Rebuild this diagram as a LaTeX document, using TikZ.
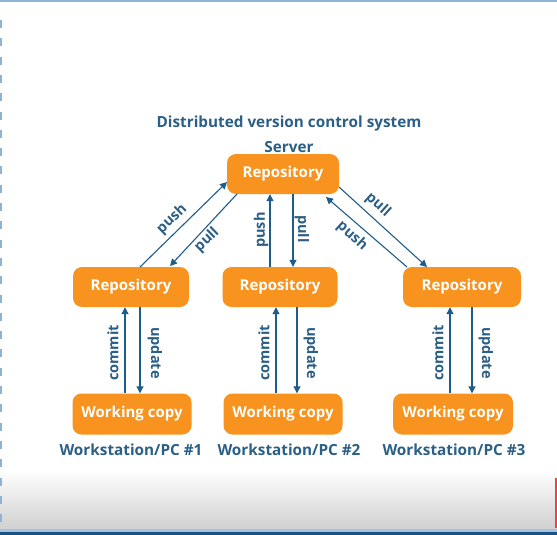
\documentclass[tikz,border=0pt]{standalone}
\usepackage{fontspec}
\setmainfont{Open Sans}
\usetikzlibrary{arrows.meta}
\definecolor{boxorange}{HTML}{F7931E}
\definecolor{arrblue}{HTML}{1E5C8A}
\definecolor{txtblue}{HTML}{2B5F86}
\definecolor{framelight}{HTML}{8FB2D9}
\definecolor{framedark}{HTML}{1B5282}
\definecolor{redbar}{HTML}{F2403C}
\tikzset{
  repo/.style={fill=boxorange, rounded corners=9pt, minimum height=40pt, text=white, font=\bfseries\fontsize{15}{17}\selectfont, inner sep=0pt},
  caption/.style={text=txtblue, font=\bfseries\fontsize{15.3}{17}\selectfont, inner sep=0pt},
  lbl/.style={text=txtblue, font=\bfseries\fontsize{14.5}{16}\selectfont, inner sep=0pt},
  conn/.style={draw=arrblue, line width=1.1pt, -{Triangle[length=7pt,width=7pt]}}
}
\begin{document}
\begin{tikzpicture}[x=1pt,y=-1pt]
\useasboundingbox (0,0) rectangle (557,535);
% background
\fill[white] (0,0) rectangle (557,535);
\shade[top color=white, bottom color=black!19] (0,470) rectangle (557,531);
\fill[framelight] (0,0) rectangle (557,2.5);
\fill[framelight!80] (0,529) rectangle (557,531.5);
\fill[framedark] (0,531.5) rectangle (557,535);
\fill[redbar] (555,478) rectangle (557,528);
\foreach \yy in {20,38.3,...,520} \fill[framelight] (0,\yy) rectangle (2.3,\yy+8);
% titles
\node[caption] (title) at (289,124) {Distributed version control system};
\node[caption] (server) at (289,147) {Server};
% boxes
\node[repo, minimum width=112pt] (top) at (283,174) {Repository};
\node[repo, minimum width=116pt] (rl) at (131,287) {Repository};
\node[repo, minimum width=115pt] (rm) at (280,287) {Repository};
\node[repo, minimum width=118pt] (rr) at (462,287) {Repository};
\node[repo, minimum width=119pt, minimum height=41pt] (wl) at (132,414) {Working copy};
\node[repo, minimum width=119pt, minimum height=41pt] (wm) at (283,414) {Working copy};
\node[repo, minimum width=120pt, minimum height=41pt] (wr) at (453,414) {Working copy};
% station captions
\node[caption] (sl) at (131,450) {Workstation/PC \#1};
\node[caption] (sm) at (289,450) {Workstation/PC \#2};
\node[caption] (sr) at (454,450) {Workstation/PC \#3};
% commit / update
\foreach \w/\r/\xc/\xu in {wl/rl/125/140, wm/rm/276/297, wr/rr/450/472}{
  \draw[conn] (\w.north -| \xc,0) -- (\r.south -| \xc,0);
  \draw[conn] (\r.south -| \xu,0) -- (\w.north -| \xu,0);
}
\node[lbl, rotate=90] (c1) at (113,353) {commit};
\node[lbl, rotate=-90] (u1) at (155,353) {update};
\node[lbl, rotate=90] (c2) at (264,353) {commit};
\node[lbl, rotate=-90] (u2) at (311,353) {update};
\node[lbl, rotate=90] (c3) at (438,353) {commit};
\node[lbl, rotate=-90] (u3) at (486,353) {update};
% middle push / pull
\draw[conn] (rm.north -| 270,0) -- (top.south -| 270,0);
\draw[conn] (top.south -| 293,0) -- (rm.north -| 293,0);
\node[lbl, rotate=90] (p2) at (261,230) {push};
\node[lbl, rotate=-90] (q2) at (302,229) {pull};
% left diagonal
\coordinate (lpa) at (140,267);
\coordinate (lpb) at (227,182);
\coordinate (lqa) at (237,194);
\coordinate (lqb) at (170,266);
\draw[conn] (lpa) -- (lpb);
\draw[conn] (lqa) -- (lqb);
\node[lbl, rotate=44] (p1) at (172,219) {push};
\node[lbl, rotate=44] (q1) at (207,240) {pull};
% right diagonal
\coordinate (rqa) at (339,187);
\coordinate (rqb) at (427,267);
\coordinate (rpa) at (407,267);
\coordinate (rpb) at (326,197);
\draw[conn] (rqa) -- (rqb);
\draw[conn] (rpa) -- (rpb);
\node[lbl, rotate=-42] (q3) at (378,205) {pull};
\node[lbl, rotate=-42] (p3) at (352,236) {push};
\end{tikzpicture}
\end{document}
